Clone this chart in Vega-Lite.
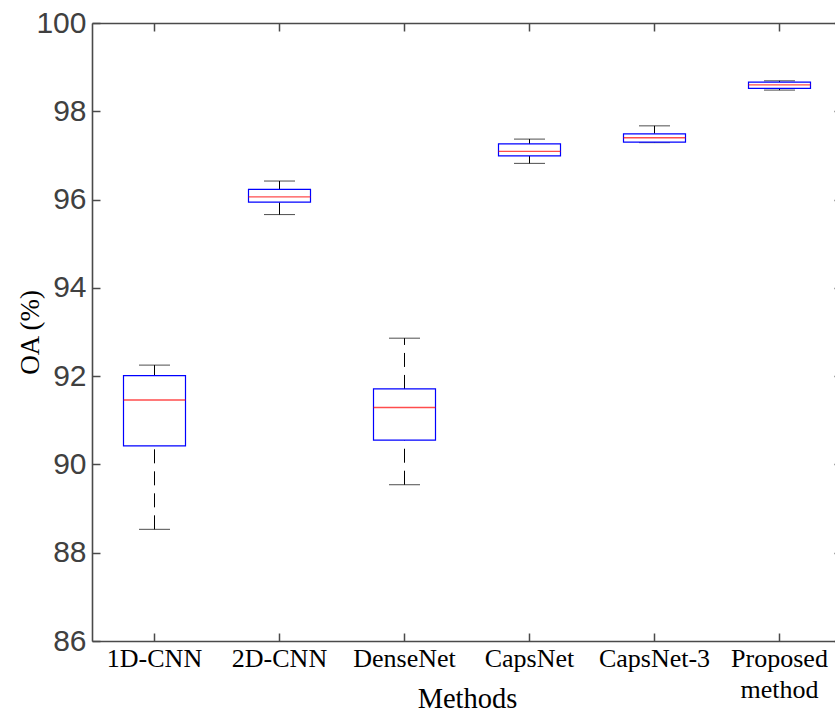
{
  "$schema": "https://vega.github.io/schema/vega-lite/v6.json",
  "autosize": {"type": "none"},
  "padding": {"left": 92, "top": 23, "right": 0, "bottom": 72},
  "width": 743,
  "height": 618,
  "background": "white",
  "config": {"view": {"stroke": null}},
  "data": {
    "values": [
      {"method": "1D-CNN", "lower": 88.53, "q1": 90.42, "median": 91.46, "q3": 92.01, "upper": 92.25},
      {"method": "2D-CNN", "lower": 95.66, "q1": 95.94, "median": 96.06, "q3": 96.23, "upper": 96.42},
      {"method": "DenseNet", "lower": 89.54, "q1": 90.55, "median": 91.29, "q3": 91.71, "upper": 92.86},
      {"method": "CapsNet", "lower": 96.82, "q1": 96.99, "median": 97.09, "q3": 97.26, "upper": 97.37},
      {"method": "CapsNet-3", "lower": 97.29, "q1": 97.3, "median": 97.4, "q3": 97.49, "upper": 97.67},
      {"method": "Proposed method", "lower": 98.48, "q1": 98.52, "median": 98.6, "q3": 98.66, "upper": 98.69}
    ]
  },
  "resolve": {"axis": {"x": "independent", "y": "independent"}},
  "layer": [
    {
      "mark": {"type": "rule", "color": "black", "strokeWidth": 1, "strokeDash": [14, 8]},
      "encoding": {
        "x": {
          "field": "method", "type": "nominal", "sort": null,
          "scale": {"type": "band", "paddingInner": 0, "paddingOuter": 0, "range": [0, 750]},
          "axis": {
            "orient": "bottom", "title": "Methods", "labelAngle": 0,
            "tickSize": -8, "tickColor": "#4a4a4a", "tickWidth": 1.5,
            "domainColor": "#4a4a4a", "domainWidth": 1.6,
            "labelFont": "Liberation Serif", "labelFontSize": 26, "labelColor": "#000000",
            "labelPadding": 12, "labelBaseline": "top", "labelLineHeight": 31,
            "labelExpr": "datum.label == 'Proposed method' ? ['Proposed', 'method'] : datum.label",
            "titleFont": "Liberation Serif", "titleFontSize": 28.5, "titleFontWeight": "normal", "titleColor": "#000000",
            "titleX": 375, "titleY": 66, "titleBaseline": "alphabetic", "titleAlign": "center"
          }
        },
        "y": {
          "field": "lower", "type": "quantitative",
          "scale": {"domain": [86, 100], "nice": false, "zero": false},
          "axis": {
            "orient": "left", "title": "OA (%)", "values": [86, 88, 90, 92, 94, 96, 98, 100],
            "tickSize": -8, "tickColor": "#4a4a4a", "tickWidth": 1.5,
            "domainColor": "#4a4a4a", "domainWidth": 1.6,
            "labelFont": "Liberation Sans", "labelFontSize": 30, "labelColor": "#404040",
            "labelPadding": 14, "grid": false,
            "titleFont": "Liberation Serif", "titleFontSize": 27, "titleFontWeight": "normal", "titleColor": "#000000",
            "titleAngle": -90, "titleX": -62, "titleY": 309, "titleBaseline": "middle", "titleAlign": "center"
          }
        },
        "y2": {"field": "q1"}
      }
    },
    {
      "mark": {"type": "rule", "color": "black", "strokeWidth": 1, "strokeDash": [14, 8]},
      "encoding": {
        "x": {
          "field": "method", "type": "nominal", "sort": null,
          "axis": {
            "orient": "top", "title": null, "labels": false,
            "tickSize": -8, "tickColor": "#4a4a4a", "tickWidth": 1.5,
            "domainColor": "#4a4a4a", "domainWidth": 1.6
          }
        },
        "y": {
          "field": "q3", "type": "quantitative",
          "axis": {
            "orient": "right", "title": null, "labels": false, "values": [86, 88, 90, 92, 94, 96, 98, 100],
            "offset": 7, "grid": false,
            "tickSize": -8, "tickColor": "#4a4a4a", "tickWidth": 1.5,
            "domainColor": "#4a4a4a", "domainWidth": 1.6
          }
        },
        "y2": {"field": "upper"}
      }
    },
    {
      "mark": {"type": "tick", "color": "black", "size": 31, "thickness": 1},
      "encoding": {
        "x": {"field": "method", "type": "nominal", "sort": null, "axis": null},
        "y": {"field": "lower", "type": "quantitative", "axis": null}
      }
    },
    {
      "mark": {"type": "tick", "color": "black", "size": 31, "thickness": 1},
      "encoding": {
        "x": {"field": "method", "type": "nominal", "sort": null, "axis": null},
        "y": {"field": "upper", "type": "quantitative", "axis": null}
      }
    },
    {
      "mark": {"type": "bar", "fill": "white", "stroke": "#0000ff", "strokeWidth": 1.2, "size": 62},
      "encoding": {
        "x": {"field": "method", "type": "nominal", "sort": null, "axis": null},
        "y": {"field": "q1", "type": "quantitative", "axis": null},
        "y2": {"field": "q3"}
      }
    },
    {
      "mark": {"type": "tick", "color": "#ff0000", "size": 62, "thickness": 1.3},
      "encoding": {
        "x": {"field": "method", "type": "nominal", "sort": null, "axis": null},
        "y": {"field": "median", "type": "quantitative", "axis": null}
      }
    }
  ]
}
